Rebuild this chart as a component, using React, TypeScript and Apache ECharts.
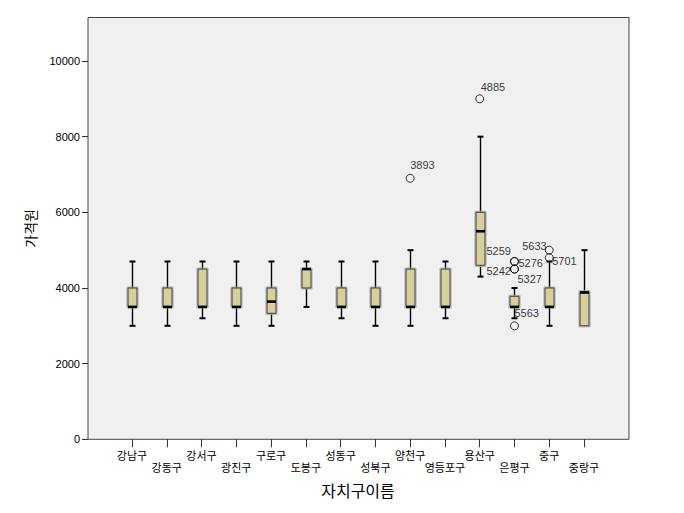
import React, { useEffect, useRef } from 'react';
import * as echarts from 'echarts';

const districts = ['강남구', '강동구', '강서구', '광진구', '구로구', '도봉구', '성동구', '성북구', '양천구', '영등포구', '용산구', '은평구', '중구', '중랑구'];
const lowWhisker = [3000, 3000, 3200, 3000, 3000, 3500, 3200, 3000, 3000, 3200, 4300, 3200, 3000, 3000];
const q1 = [3500, 3500, 3500, 3500, 3330, 4000, 3500, 3500, 3500, 3500, 4600, 3500, 3500, 3000];
const median = [3500, 3500, 3500, 3500, 3640, 4500, 3500, 3500, 3500, 3500, 5500, 3500, 3500, 3880];
const q3 = [4000, 4000, 4500, 4000, 4000, 4500, 4000, 4000, 4500, 4500, 6000, 3780, 4000, 3900];
const highWhisker = [4700, 4700, 4700, 4700, 4700, 4700, 4700, 4700, 5000, 4700, 8000, 4000, 4700, 5000];

const outlierDistrict = ['양천구', '용산구', '은평구', '은평구', '은평구', '은평구', '은평구', '중구', '중구'];
const outlierValue = [6900, 9000, 4700, 4700, 4500, 4500, 3000, 5000, 4800];
const outlierId = ['3893', '4885', '5259', '5276', '5242', '5327', '5563', '5633', '5701'];

const yTicks = [0, 2000, 4000, 6000, 8000, 10000];
const yMax = 11150;

// label placement (style only)
const outlierLabelOffsets: number[][] = [
  [0, -13], [1, -12], [-28, -11], [4, 1], [-28, 2], [3, 10], [0, -13], [-27, -4], [3, 3],
];

const LATIN = "'Liberation Sans', Arial, 'Noto Sans CJK KR', sans-serif";

export default function App() {
  const ref = useRef<HTMLDivElement>(null);
  useEffect(() => {
    if (!ref.current) return;
    const chart = echarts.init(ref.current, undefined, { renderer: 'svg' });
    const boxData = districts.map((d, i) => [i, lowWhisker[i], q1[i], median[i], q3[i], highWhisker[i]]);
    const outData = outlierValue.map((v, i) => ({
      value: [districts.indexOf(outlierDistrict[i]), v],
      name: outlierId[i],
      label: { offset: outlierLabelOffsets[i] },
    }));
    const top = 17.5;
    const bottom = 513 - 439.3;
    chart.setOption({
      animation: false,
      backgroundColor: '#ffffff',
      grid: [
        {
          left: 88, width: 541, top, bottom,
          show: true, backgroundColor: '#F0F0F0', borderColor: '#444', borderWidth: 1,
          containLabel: false, outerBoundsMode: 'none',
        },
        {
          left: 114.6, right: 684 - 601.4, top, bottom,
          containLabel: false, outerBoundsMode: 'none',
        },
      ],
      xAxis: [
        { gridIndex: 0, type: 'value', show: false, min: 0, max: 1 },
        {
          gridIndex: 1,
          type: 'category',
          data: districts,
          boundaryGap: true,
          axisLine: { show: false },
          axisTick: { show: true, alignWithLabel: true, length: 8, lineStyle: { color: '#333', width: 1 } },
          axisLabel: {
            interval: 0,
            margin: 10,
            fontSize: 11,
            lineHeight: 12,
            color: '#000',
            fontFamily: "'Noto Sans CJK KR', sans-serif",
            formatter: (v: string, i: number) => (i % 2 === 1 ? '\n' + v : v),
          },
          splitLine: { show: false },
          name: '자치구이름',
          nameLocation: 'middle',
          nameGap: 43,
          nameTextStyle: { fontSize: 16, color: '#000', fontFamily: "'Noto Sans CJK KR', sans-serif" },
        },
      ],
      yAxis: [
        {
          gridIndex: 0,
          type: 'value',
          min: 0,
          max: yMax,
          axisLine: { show: false },
          axisTick: { show: true, length: 6, customValues: yTicks, lineStyle: { color: '#333', width: 1 } },
          axisLabel: {
            customValues: yTicks,
            fontSize: 11,
            color: '#000',
            margin: 8,
            fontFamily: LATIN,
            formatter: (v: number) => String(v),
          },
          splitLine: { show: false },
          name: '가격원',
          nameLocation: 'middle',
          nameGap: 51,
          nameRotate: 90,
          nameTextStyle: { fontSize: 14, color: '#000', fontFamily: "'Noto Sans CJK KR', sans-serif" },
        },
        { gridIndex: 1, type: 'value', min: 0, max: yMax, show: false },
      ],
      series: [
        {
          type: 'custom',
          xAxisIndex: 1,
          yAxisIndex: 1,
          z: 3,
          encode: { x: 0, y: [1, 2, 3, 4, 5] },
          data: boxData,
          renderItem: (params: any, api: any) => {
            const x = api.value(0);
            const lo = api.value(1), a = api.value(2), m = api.value(3), b = api.value(4), hi = api.value(5);
            const pLo = api.coord([x, lo]);
            const pA = api.coord([x, a]);
            const pM = api.coord([x, m]);
            const pB = api.coord([x, b]);
            const pHi = api.coord([x, hi]);
            const cx = Math.round(pLo[0]) + 0.5;
            const bw = 9;
            const cw = 6;
            const children: any[] = [];
            const ws = { stroke: '#000', lineWidth: 1.4 };
            if (hi > b) {
              children.push({ type: 'line', shape: { x1: cx, y1: pB[1], x2: cx, y2: pHi[1] }, style: ws });
              children.push({ type: 'line', shape: { x1: cx - cw / 2, y1: pHi[1], x2: cx + cw / 2, y2: pHi[1] }, style: { stroke: '#000', lineWidth: 2 } });
            }
            if (lo < a) {
              children.push({ type: 'line', shape: { x1: cx, y1: pA[1], x2: cx, y2: pLo[1] }, style: ws });
              children.push({ type: 'line', shape: { x1: cx - cw / 2, y1: pLo[1], x2: cx + cw / 2, y2: pLo[1] }, style: { stroke: '#000', lineWidth: 2 } });
            }
            children.push({
              type: 'rect',
              shape: { x: cx - bw / 2 - 1, y: pB[1] - 1, width: bw + 2, height: pA[1] - pB[1] + 2 },
              style: { fill: 'none', stroke: '#a8a8a8', lineWidth: 1 },
            });
            children.push({
              type: 'rect',
              shape: { x: cx - bw / 2, y: pB[1], width: bw, height: pA[1] - pB[1] },
              style: { fill: '#D6D19B', stroke: '#3a3a3a', lineWidth: 1 },
            });
            children.push({
              type: 'line',
              shape: { x1: cx - bw / 2, y1: pM[1], x2: cx + bw / 2, y2: pM[1] },
              style: { stroke: '#000', lineWidth: 2.6 },
            });
            return { type: 'group', children };
          },
        },
        {
          type: 'scatter',
          xAxisIndex: 1,
          yAxisIndex: 1,
          z: 4,
          symbol: 'circle',
          symbolSize: 8,
          itemStyle: { color: 'rgba(0,0,0,0)', borderColor: '#000', borderWidth: 1 },
          label: {
            show: true,
            position: 'inside',
            align: 'left',
            verticalAlign: 'middle',
            formatter: (p: any) => p.name,
            fontSize: 11,
            color: '#000',
            textBorderWidth: 0,
            fontFamily: LATIN,
          },
          emphasis: { disabled: true },
          data: outData,
        },
      ],
    });
    return () => chart.dispose();
  }, []);
  return <div ref={ref} style={{ position: 'fixed', left: 0, top: 0, width: 684, height: 513 }} />;
}
